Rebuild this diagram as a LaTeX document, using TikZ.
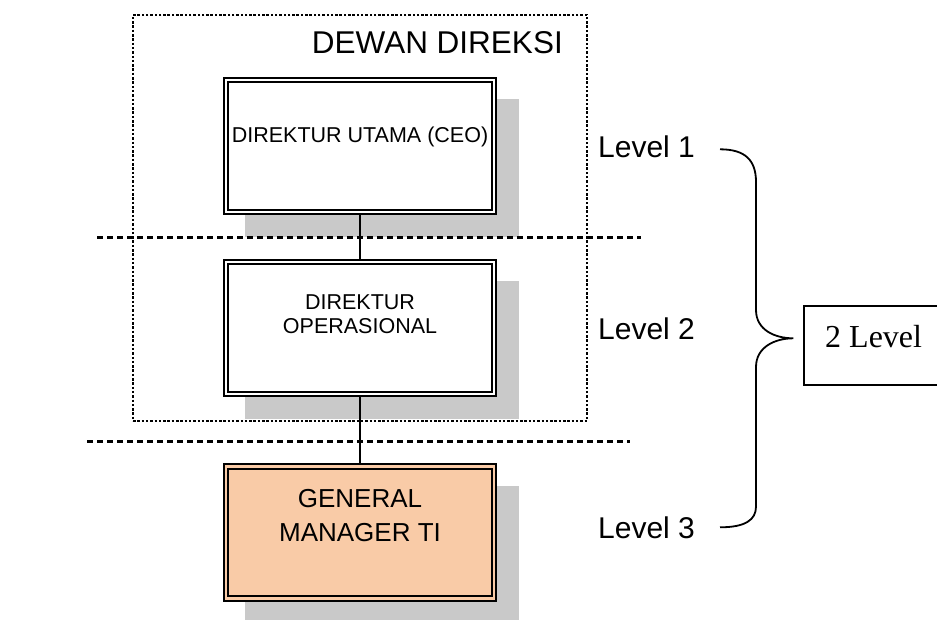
\documentclass[tikz,border=0pt]{standalone}
\usepackage{fontspec}
\setmainfont{Liberation Sans}
\newfontfamily\timesface{Liberation Serif}
\usetikzlibrary{backgrounds}
\definecolor{shadowgray}{HTML}{C9C9C9}
\definecolor{peach}{HTML}{F9CBA7}
\begin{document}
\begin{tikzpicture}[x=1pt,y=-1pt,
  orgbox/.style={rectangle, draw=black, double=white, fill=white,
    line width=2pt, double distance=2.2pt,
    minimum width=268pt, minimum height=132pt, inner sep=0pt, outer sep=3pt},
  gmbox/.style={orgbox, double=peach, fill=peach},
  boxtext/.style={anchor=base, inner sep=0pt},
  lvltext/.style={anchor=base west, inner sep=0pt, font=\fontsize{30}{36}\selectfont},
  link/.style={draw=black, line width=1.8pt},
  levelsep/.style={draw=black, line width=3pt, dash pattern=on 6pt off 4pt},
  groupbox/.style={rectangle, draw=black, line width=1.8pt,
    dash pattern=on 2.5pt off 1.8pt, inner sep=0pt, outer sep=0pt},
  bracket/.style={draw=black, line width=1.8pt},
  shadow/.style={fill=shadowgray}]
\useasboundingbox (0,0) rectangle (937,619);

% board of directors grouping
\node[groupbox, minimum width=454pt, minimum height=406pt] (dewan) at (360,218) {};
\node[anchor=base east, inner sep=0pt, font=\fontsize{31.5}{36}\selectfont] (dewantext) at (563,53.5) {DEWAN DIREKSI};

% level separators
\draw[levelsep] (97,237) -- (641,237);
\draw[levelsep] (87,441) -- (630,441);

% positions
\node[orgbox] (ceo) at (360,146) {};
\node[orgbox] (ops) at (360,328) {};
\node[gmbox] (gm) at (360,532.5) {};

% drop shadows behind the boxes
\begin{scope}[on background layer]
  \foreach \b in {ceo,ops,gm}
    \fill[shadow] ([shift={(22,22)}]\b.south west) rectangle ([shift={(22,22)}]\b.north east);
\end{scope}

% box captions
\node[boxtext, font=\fontsize{21.5}{24}\selectfont] (ceotext) at (360,142.5) {DIREKTUR UTAMA (CEO)};
\node[boxtext, font=\fontsize{21.5}{24}\selectfont] (opstext1) at (360,309.3) {DIREKTUR};
\node[boxtext, font=\fontsize{21.5}{24}\selectfont] (opstext2) at (360,333.3) {OPERASIONAL};
\node[boxtext, font=\fontsize{26}{30}\selectfont] (gmtext1) at (360,507) {GENERAL};
\node[boxtext, font=\fontsize{26}{30}\selectfont] (gmtext2) at (360,541) {MANAGER TI};

% reporting lines
\draw[link] (ceo.south) -- (ops.north);
\draw[link] (ops.south) -- (gm.north);

% level labels
\node[lvltext] (lvlone) at (598,157.3) {Level 1};
\node[lvltext] (lvltwo) at (598,339.3) {Level 2};
\node[lvltext] (lvlthree) at (598,538.3) {Level 3};

% summary box
\node[rectangle, draw=black, line width=1.6pt, minimum width=150pt, minimum height=79pt,
  inner sep=0pt, outer sep=0pt] (summary) at (879,345.5) {};
\node[anchor=base west, inner sep=0pt, font=\timesface\fontsize{32}{36}\selectfont] (summarytext) at (825,347.3) {2 Level};

% brace spanning level 1 to level 3
\coordinate (bracetop) at (720,149.3);
\coordinate (bracetip) at (793.3,338.3);
\coordinate (bracebottom) at (720,527.3);
\draw[bracket] (bracetop) .. controls (745,149.3) and (756,160) .. (756,182)
  -- (756,310) .. controls (756,330) and (775,338.3) .. (bracetip)
  .. controls (775,338.3) and (756,347) .. (756,367)
  -- (756,506.7) .. controls (756,520) and (745,527.3) .. (bracebottom);
\end{tikzpicture}
\end{document}
